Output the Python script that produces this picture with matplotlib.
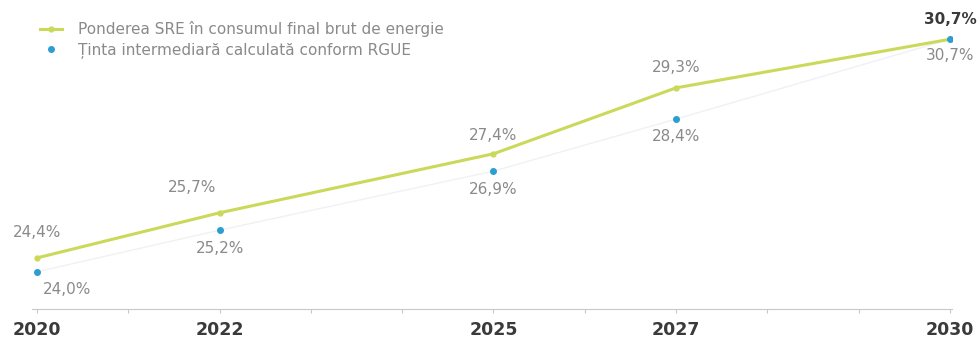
import matplotlib.pyplot as plt

years = [2020, 2022, 2025, 2027, 2030]
sre_share = [24.4, 25.7, 27.4, 29.3, 30.7]
rgue_targets = [24.0, 25.2, 26.9, 28.4, 30.7]
year_labels = ["2020", "2022", "2025", "2027", "2030"]

GREEN = "#cbd95a"
BLUE = "#2b9ed2"
LABEL_GREY = "#8a8a8a"
DARK = "#3a3a3a"


def pct(v):
    return f"{v:.1f}%".replace(".", ",")


def main():
    fig = plt.figure(figsize=(9.77, 3.38), dpi=100)
    ax = fig.add_axes([0.0332, 0.086, 0.941, 0.880])

    ax.plot(years, rgue_targets, color="#eef2f3", lw=1, zorder=1)
    ax.plot(years, sre_share, color=GREEN, lw=2.2, marker="o", ms=3.5,
            label="Ponderea SRE în consumul final brut de energie", zorder=3)
    ax.plot(years, rgue_targets, ls="none", color=BLUE, marker="o", ms=4,
            label="Ținta intermediară calculată conform RGUE", zorder=4)

    # value labels: main series above the line, targets below the dots
    offsets_top = [(0, 18.5), (-20, 18), (0, 13), (0, 14.5), (0, 14.5)]
    offsets_bot = [(22, -13), (0, -13.5), (0, -13), (0, -12.5), (0, -12)]
    for i, (x, y, off) in enumerate(zip(years, sre_share, offsets_top)):
        last = i == len(years) - 1
        ax.annotate(pct(y), (x, y), xytext=off, textcoords="offset points",
                    ha="center", va="center", fontsize=11,
                    color=DARK if last else LABEL_GREY,
                    fontweight="bold" if last else "normal",
                    annotation_clip=False)
    for x, y, off in zip(years, rgue_targets, offsets_bot):
        ax.annotate(pct(y), (x, y), xytext=off, textcoords="offset points",
                    ha="center", va="center", fontsize=11, color=LABEL_GREY,
                    annotation_clip=False)

    ax.set_xlim(2019.95, 2030.02)
    ax.set_ylim(22.93, 31.5)
    ax.set_xticks(range(2020, 2031))
    ax.set_xticklabels([str(y) if str(y) in year_labels else "" for y in range(2020, 2031)],
                       fontsize=12.5, fontweight="bold", color=DARK)
    ax.tick_params(axis="x", length=3, color="#c8c8c8", pad=6)
    ax.set_yticks([])
    for side in ["top", "right", "left"]:
        ax.spines[side].set_visible(False)
    ax.spines["bottom"].set_color("#c8c8c8")

    fig.legend(loc="upper left", bbox_to_anchor=(0.035, 0.955), borderaxespad=0,
               frameon=False, fontsize=11, labelcolor=LABEL_GREY,
               handlelength=1.45, handletextpad=1.0, labelspacing=0.35)

    fig.savefig("out.png")
    plt.close(fig)


if __name__ == "__main__":
    main()
